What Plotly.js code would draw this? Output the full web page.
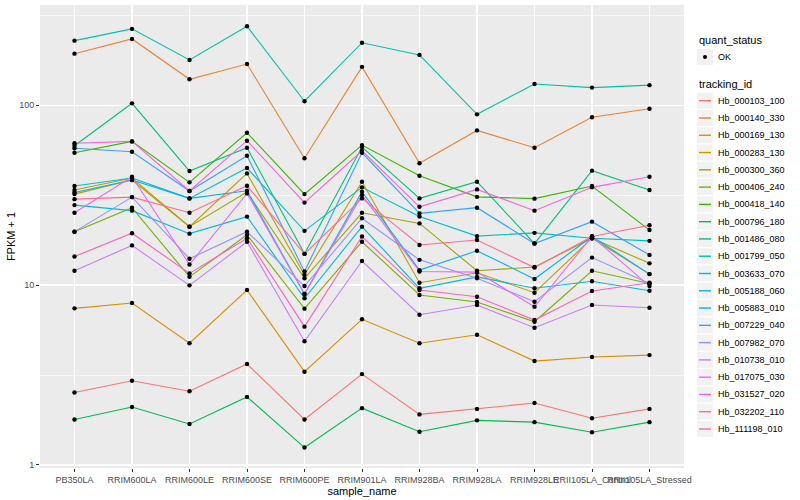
<!DOCTYPE html>
<html><head><meta charset="utf-8">
<script src="https://cdn.plot.ly/plotly-3.0.1.min.js"></script>
<style>html,body{margin:0;padding:0;background:#fff}#chart{width:800px;height:500px}</style>
</head><body><div id="chart"></div>
<script>
// ---- data ----
const samples = ["PB350LA","RRIM600LA","RRIM600LE","RRIM600SE","RRIM600PE","RRIM901LA","RRIM928BA","RRIM928LA","RRIM928LE","RRII105LA_Control","RRII105LA_Stressed"];
const trackingIds = ["Hb_000103_100","Hb_000140_330","Hb_000169_130","Hb_000283_130","Hb_000300_360","Hb_000406_240","Hb_000418_140","Hb_000796_180","Hb_001486_080","Hb_001799_050","Hb_003633_070","Hb_005188_060","Hb_005883_010","Hb_007229_040","Hb_007982_070","Hb_010738_010","Hb_017075_030","Hb_031527_020","Hb_032202_110","Hb_111198_010"];
const quantStatus = ["OK"];

const hb_000103_100 = [2.53, 2.94, 2.57, 3.64, 1.79, 3.20, 1.91, 2.05, 2.21, 1.82, 2.05];
const hb_000140_330 = [193, 233, 139, 169, 50.6, 163, 47.5, 72.3, 57.9, 85.5, 95.4];
const hb_000169_130 = [7.42, 7.94, 4.75, 9.38, 3.30, 6.45, 4.75, 5.29, 3.78, 3.98, 4.08];
const hb_000283_130 = [32.0, 38.3, 21.1, 41.7, 11.4, 37.5, 10.3, 11.7, 9.06, 18.2, 11.5];
const hb_000300_360 = [33.7, 39.3, 21.1, 32.9, 10.9, 25.2, 22.0, 12.0, 12.6, 18.2, 13.2];
const hb_000406_240 = [19.8, 26.9, 11.1, 19.0, 7.39, 17.4, 8.80, 8.05, 6.25, 12.0, 10.2];
const hb_000418_140 = [54.3, 62.8, 37.2, 70.2, 32.0, 59.9, 40.5, 30.9, 30.2, 35.5, 20.2];
const hb_000796_180 = [1.79, 2.10, 1.69, 2.39, 1.25, 2.07, 1.53, 1.77, 1.73, 1.52, 1.73];
const hb_001486_080 = [59.4, 102.2, 43.0, 57.9, 14.9, 58.4, 30.3, 37.5, 17.0, 43.2, 33.7];
const hb_001799_050 = [228, 265, 178, 274, 105, 222, 190, 88.8, 131, 125, 129];
const hb_003633_070 = [35.5, 39.3, 30.3, 44.7, 20.0, 34.9, 24.0, 18.7, 19.5, 18.2, 17.6];
const hb_005188_060 = [27.8, 25.9, 19.3, 24.0, 8.44, 21.1, 9.59, 11.1, 9.59, 10.5, 9.30];
const hb_005883_010 = [32.7, 38.3, 30.3, 33.4, 8.91, 33.0, 12.1, 15.5, 10.8, 18.6, 11.5];
const hb_007229_040 = [57.5, 55.0, 33.3, 52.3, 11.9, 54.3, 25.0, 26.9, 17.0, 22.5, 14.7];
const hb_007982_070 = [19.8, 30.8, 14.0, 19.8, 9.87, 23.5, 13.8, 10.9, 8.08, 14.2, 10.2];
const hb_010738_010 = [12.0, 16.6, 9.96, 17.4, 4.87, 13.6, 6.84, 7.74, 5.79, 7.74, 7.48];
const hb_017075_030 = [25.2, 40.0, 13.0, 32.3, 8.91, 31.6, 11.9, 11.8, 7.57, 18.6, 9.87];
const hb_031527_020 = [61.3, 62.8, 33.3, 63.4, 28.7, 55.7, 27.2, 34.0, 25.9, 34.9, 40.0];
const hb_032202_110 = [14.4, 19.4, 11.6, 18.2, 5.87, 18.6, 9.38, 8.61, 6.39, 9.26, 10.3];
const hb_111198_010 = [30.0, 30.8, 25.2, 35.6, 14.9, 30.3, 16.7, 17.8, 12.5, 18.6, 21.5];

const yTickVals = [1, 10, 100];
const yTickText = ["1", "10", "100"];

// ---- styles ----
const seriesValues = [hb_000103_100, hb_000140_330, hb_000169_130, hb_000283_130, hb_000300_360, hb_000406_240, hb_000418_140, hb_000796_180, hb_001486_080, hb_001799_050, hb_003633_070, hb_005188_060, hb_005883_010, hb_007229_040, hb_007982_070, hb_010738_010, hb_017075_030, hb_031527_020, hb_032202_110, hb_111198_010];
const palette = ["#F8766D","#EA8331","#D89000","#C09B00","#A3A500","#7CAE00","#39B600","#00BB4E","#00BF7D","#00C1A3","#00BFC4","#00BAE0","#00B0F6","#35A2FF","#9590FF","#C77CFF","#E76BF3","#FA62DB","#FF62BC","#FF6C91"];
const FONT = "Liberation Sans, Arial, Helvetica, sans-serif";

const traces = [];
seriesValues.forEach((vals, i) => {
  traces.push({x: samples, y: vals, type: "scatter", mode: "lines", name: trackingIds[i],
    line: {color: palette[i], width: 1.1}, showlegend: false, hoverinfo: "skip"});
});
seriesValues.forEach((vals, i) => {
  traces.push({x: samples, y: vals, type: "scatter", mode: "markers", name: trackingIds[i],
    marker: {color: "#000", size: 4.4}, showlegend: false, cliponaxis: false});
});

// ---- manual ggplot-style legend (paper coords from pixels) ----
const M = {l: 40, r: 116, t: 5, b: 32};
const PW = 800 - M.l - M.r, PH = 500 - M.t - M.b;
const px = x => (x - M.l) / PW;
const py = y => (500 - M.b - y) / PH;

const shapes = [];
const annotations = [];
annotations.push({x: px(697), y: py(40.5), xref: "paper", yref: "paper", text: "quant_status", showarrow: false,
  xanchor: "left", yanchor: "middle", font: {family: FONT, size: 11, color: "#000"}});
quantStatus.forEach((q, k) => {
  const yc = 57 + k * 17.3;
  shapes.push({type: "rect", xref: "paper", yref: "paper", x0: px(697), x1: px(713), y0: py(yc - 8), y1: py(yc + 8),
    fillcolor: "#F2F2F2", line: {width: 0}});
  shapes.push({type: "circle", xref: "paper", yref: "paper", x0: px(703), x1: px(707), y0: py(yc + 2), y1: py(yc - 2),
    fillcolor: "#000", line: {width: 0}});
  annotations.push({x: px(716), y: py(yc), xref: "paper", yref: "paper", text: q, showarrow: false,
    xanchor: "left", yanchor: "middle", font: {family: FONT, size: 9, color: "#000"}});
});
annotations.push({x: px(697), y: py(84.3), xref: "paper", yref: "paper", text: "tracking_id", showarrow: false,
  xanchor: "left", yanchor: "middle", font: {family: FONT, size: 11, color: "#000"}});
trackingIds.forEach((id, i) => {
  const yc = 100.7 + 17.28 * i;
  shapes.push({type: "rect", xref: "paper", yref: "paper", x0: px(697), x1: px(713), y0: py(yc - 8), y1: py(yc + 8),
    fillcolor: "#F2F2F2", line: {width: 0}});
  shapes.push({type: "line", xref: "paper", yref: "paper", x0: px(699), x1: px(711), y0: py(yc), y1: py(yc),
    line: {color: palette[i], width: 1.4}});
  annotations.push({x: px(716), y: py(yc), xref: "paper", yref: "paper", text: id, showarrow: false,
    xanchor: "left", yanchor: "middle", font: {family: FONT, size: 9, color: "#000"}});
});

const layout = {
  width: 800, height: 500,
  margin: {l: M.l, r: M.r, t: M.t, b: M.b, pad: 0},
  paper_bgcolor: "#FFFFFF", plot_bgcolor: "#EBEBEB",
  font: {family: FONT, size: 9, color: "#4D4D4D"},
  showlegend: false,
  xaxis: {
    type: "category", categoryorder: "array", categoryarray: samples,
    range: [-0.6, samples.length - 0.4],
    showgrid: true, gridcolor: "#FFFFFF", gridwidth: 1.1, zeroline: false, showline: false,
    ticks: "outside", ticklen: 3, tickcolor: "#333333", tickwidth: 1,
    tickangle: 0, tickfont: {family: FONT, size: 9, color: "#4D4D4D"},
    title: {text: "sample_name", font: {family: FONT, size: 11, color: "#000"}, standoff: 2},
    automargin: false, fixedrange: true
  },
  yaxis: {
    type: "log", range: [-0.0167, 2.556],
    tickmode: "array", tickvals: yTickVals, ticktext: yTickText,
    showgrid: true, gridcolor: "#FFFFFF", gridwidth: 1.1, zeroline: false, showline: false,
    ticks: "outside", ticklen: 3, tickcolor: "#333333", tickwidth: 1,
    tickfont: {family: FONT, size: 9, color: "#4D4D4D"},
    minor: {tickmode: "array", tickvals: [Math.sqrt(10), Math.sqrt(1000), Math.sqrt(100000)], showgrid: true, gridcolor: "#FFFFFF", gridwidth: 0.6, ticks: ""},
    title: {text: "FPKM + 1", font: {family: FONT, size: 11, color: "#000"}, standoff: 1},
    automargin: false, fixedrange: true
  },
  shapes: shapes,
  annotations: annotations
};

Plotly.newPlot("chart", traces, layout, {displayModeBar: false, staticPlot: true});
</script>
</body></html>
